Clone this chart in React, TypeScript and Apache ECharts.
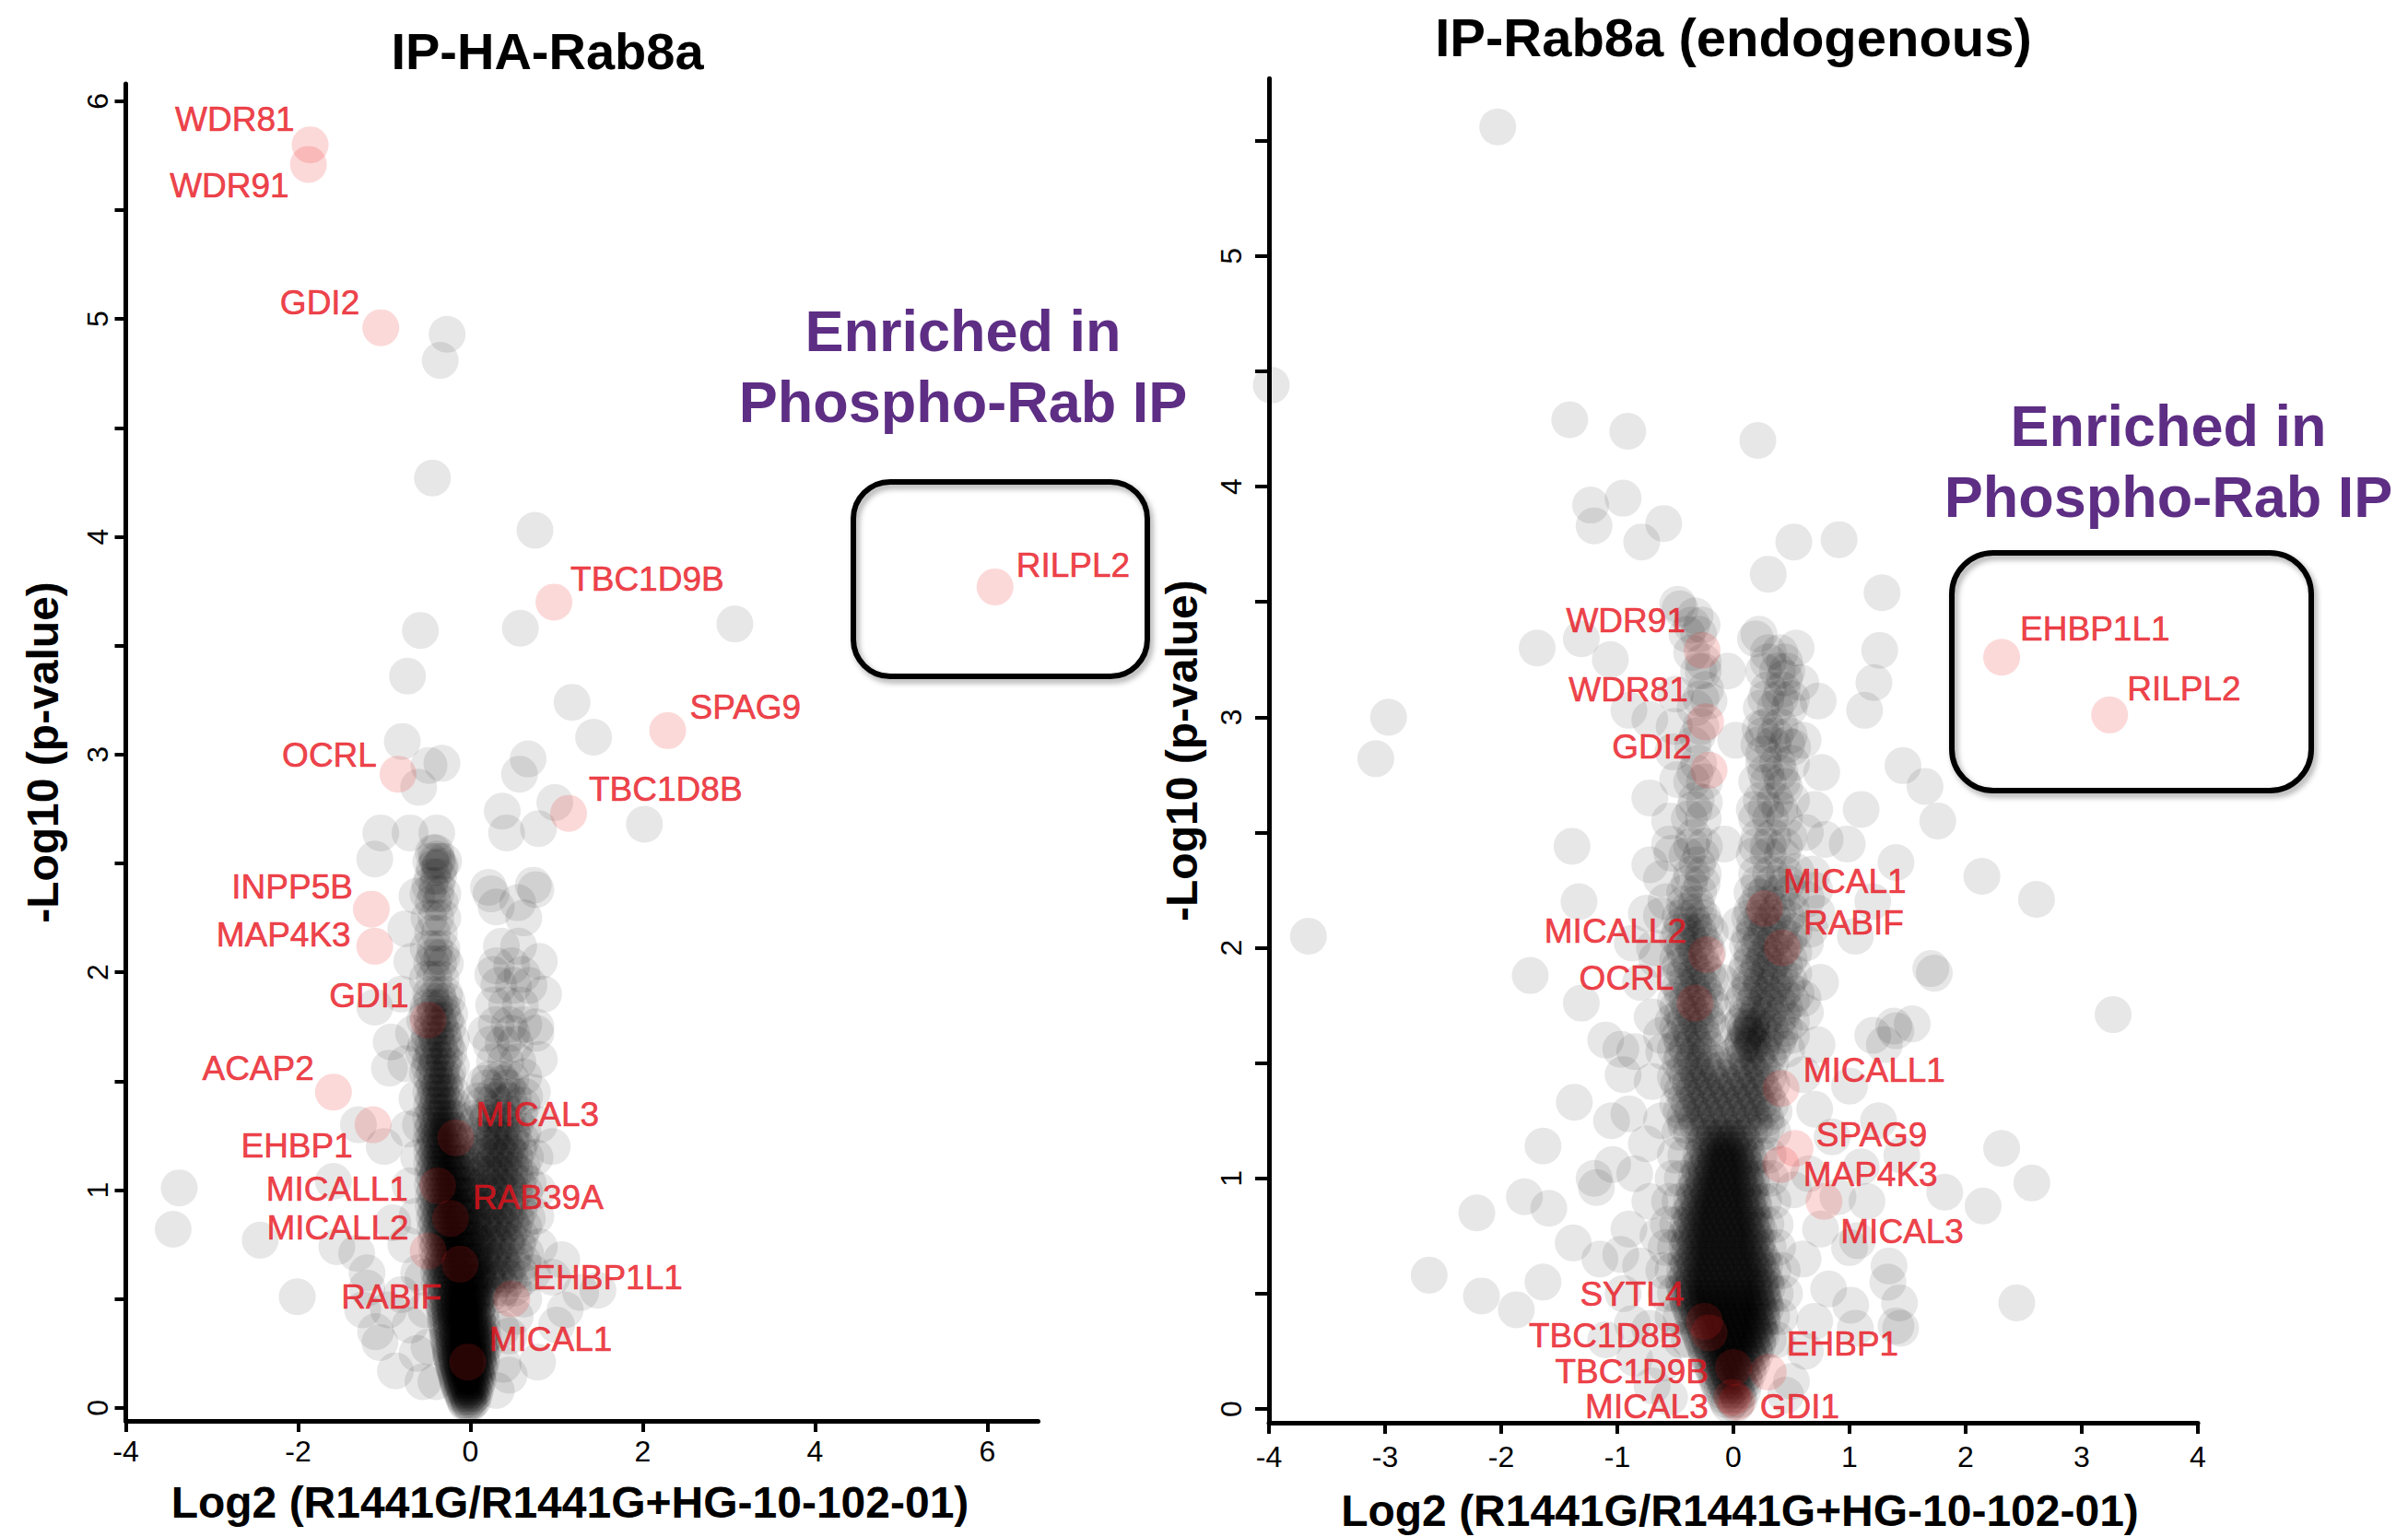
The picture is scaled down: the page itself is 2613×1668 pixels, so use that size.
import React, { useEffect, useRef } from "react";
import * as echarts from "echarts";

const FONT = '"Liberation Sans", Arial, Helvetica, sans-serif';

// ---------- texts ----------
const LEFT_TITLE = "IP-HA-Rab8a";
const RIGHT_TITLE = "IP-Rab8a (endogenous)";
const X_NAME = "Log2 (R1441G/R1441G+HG-10-102-01)";
const Y_NAME = "-Log10 (p-value)";
const ENRICHED_TEXT = "Enriched in\nPhospho-Rab IP";

// ---------- ticks ----------
const LEFT_X_LABELS = [-4, -2, 0, 2, 4, 6];
const LEFT_Y_LABELS = [0, 1, 2, 3, 4, 5, 6];
const LEFT_Y_TICKS = [0, 0.5, 1, 1.5, 2, 2.5, 3, 3.5, 4, 4.5, 5, 5.5, 6];
const RIGHT_X_LABELS = [-4, -3, -2, -1, 0, 1, 2, 3, 4];
const RIGHT_Y_LABELS = [0, 1, 2, 3, 4, 5];
const RIGHT_Y_TICKS = [0, 0.5, 1, 1.5, 2, 2.5, 3, 3.5, 4, 4.5, 5, 5.5];

// ---------- left panel: highlighted proteins ----------
const LEFT_HIT_NAMES = ["WDR81", "WDR91", "GDI2", "RILPL2", "TBC1D9B", "SPAG9", "OCRL", "TBC1D8B", "INPP5B", "MAP4K3", "GDI1", "ACAP2", "EHBP1", "MICAL3", "MICALL1", "RAB39A", "MICALL2", "RABIF", "EHBP1L1", "MICAL1"];
const LEFT_HIT_X = [-1.86, -1.88, -1.04, 6.09, 0.97, 2.29, -0.84, 1.14, -1.15, -1.11, -0.49, -1.59, -1.13, -0.17, -0.38, -0.23, -0.49, -0.12, 0.48, -0.03];
const LEFT_HIT_Y = [5.8, 5.71, 4.96, 3.77, 3.7, 3.11, 2.91, 2.73, 2.29, 2.12, 1.78, 1.45, 1.3, 1.24, 1.02, 0.87, 0.72, 0.66, 0.5, 0.21];

// ---------- left panel: all other proteins ----------
// rows: [-log10 p, log2 ratio, log2 ratio, ...]
const LEFT_CORE_ROWS = [
  [0.02, -0.05, 0.0, -0.02],
  [0.05, -0.08, -0.03, 0.02],
  [0.08, -0.11, -0.06, -0.01, 0.04],
  [0.11, -0.14, -0.09, -0.04, 0.01, 0.06],
  [0.14, -0.16, -0.11, -0.06, -0.01, 0.04, 0.08],
  [0.17, -0.18, -0.13, -0.08, -0.03, 0.02, 0.07],
  [0.2, -0.2, -0.15, -0.1, -0.05, 0.0, 0.05, 0.1],
  [0.23, -0.22, -0.16, -0.11, -0.06, -0.01, 0.04, 0.09],
  [0.26, -0.23, -0.18, -0.12, -0.07, -0.02, 0.03, 0.08, 0.12],
  [0.3, -0.25, -0.19, -0.13, -0.08, -0.03, 0.02, 0.07, 0.12],
  [0.34, -0.26, -0.2, -0.14, -0.09, -0.04, 0.01, 0.06, 0.11],
  [0.38, -0.28, -0.22, -0.16, -0.1, -0.05, 0.0, 0.05, 0.1],
  [0.42, -0.29, -0.23, -0.17, -0.11, -0.06, -0.01, 0.04, 0.09],
  [0.46, -0.3, -0.24, -0.18, -0.12, -0.07, -0.02, 0.03, 0.08],
  [0.5, -0.31, -0.25, -0.19, -0.13, -0.08, -0.03, 0.02, 0.07],
  [0.55, -0.33, -0.27, -0.21, -0.15, -0.09, -0.04, 0.01, 0.06],
  [0.6, -0.34, -0.28, -0.22, -0.16, -0.1, -0.05, 0.0],
  [0.65, -0.35, -0.29, -0.23, -0.17, -0.11, -0.06, 0.0],
  [0.7, -0.36, -0.3, -0.24, -0.18, -0.12, -0.07],
  [0.75, -0.37, -0.31, -0.25, -0.19, -0.13, -0.08],
  [0.8, -0.38, -0.32, -0.26, -0.2, -0.14, -0.09],
  [0.85, -0.39, -0.33, -0.27, -0.21, -0.15, -0.1],
  [0.9, -0.4, -0.34, -0.28, -0.22, -0.16, -0.11],
  [0.95, -0.4, -0.34, -0.28, -0.22, -0.17],
  [1.0, -0.41, -0.35, -0.29, -0.23, -0.17],
  [1.05, -0.41, -0.35, -0.29, -0.23, -0.18],
  [1.1, -0.42, -0.36, -0.3, -0.24, -0.18],
  [1.15, -0.42, -0.36, -0.3, -0.24],
  [1.2, -0.43, -0.37, -0.31, -0.25],
  [1.25, -0.42, -0.36, -0.3, -0.24],
  [1.3, -0.43, -0.37, -0.31, -0.25],
  [1.36, -0.42, -0.36, -0.3],
  [1.42, -0.43, -0.37, -0.31],
  [1.48, -0.42, -0.36, -0.3],
];
const LEFT_CORE_ROWS_B = [
  [0.035, -0.07, -0.02, 0.03],
  [0.065, -0.1, -0.05, 0.0, 0.05],
  [0.095, -0.13, -0.08, -0.03, 0.02, 0.07],
  [0.125, -0.15, -0.1, -0.05, 0.0, 0.05, 0.09],
  [0.155, -0.17, -0.12, -0.07, -0.02, 0.03, 0.08],
  [0.185, -0.19, -0.14, -0.09, -0.04, 0.01, 0.06, 0.11],
  [0.215, -0.21, -0.16, -0.11, -0.06, -0.01, 0.04, 0.09, 0.13],
  [0.245, -0.23, -0.17, -0.12, -0.07, -0.02, 0.03, 0.08, 0.13],
  [0.28, -0.24, -0.19, -0.13, -0.08, -0.03, 0.02, 0.07, 0.12, 0.16],
  [0.32, -0.26, -0.2, -0.15, -0.1, -0.05, 0.0, 0.05, 0.1, 0.15],
  [0.36, -0.27, -0.22, -0.16, -0.11, -0.06, -0.01, 0.04, 0.09, 0.14],
  [0.4, -0.29, -0.23, -0.17, -0.12, -0.07, -0.02, 0.03, 0.08, 0.13],
  [0.44, -0.3, -0.24, -0.18, -0.13, -0.08, -0.03, 0.02, 0.07, 0.12],
  [0.48, -0.32, -0.26, -0.2, -0.14, -0.09, -0.04, 0.01, 0.06, 0.11],
  [0.525, -0.34, -0.28, -0.22, -0.16, -0.1, -0.05, 0.0, 0.05, 0.1],
  [0.575, -0.36, -0.3, -0.24, -0.18, -0.12, -0.06, -0.01, 0.04, 0.09],
  [0.625, -0.37, -0.31, -0.25, -0.19, -0.13, -0.07, -0.02, 0.03, 0.08],
  [0.675, -0.38, -0.32, -0.26, -0.2, -0.14, -0.08, -0.03, 0.02, 0.07],
  [0.725, -0.39, -0.33, -0.27, -0.21, -0.15, -0.09, -0.04, 0.01, 0.06],
  [0.775, -0.4, -0.34, -0.28, -0.22, -0.16, -0.1, -0.05, 0.0, 0.05],
  [0.825, -0.41, -0.35, -0.29, -0.23, -0.17, -0.11, -0.06, -0.01, 0.04],
  [0.875, -0.42, -0.36, -0.3, -0.24, -0.18, -0.12, -0.07, -0.02, 0.03],
  [0.925, -0.43, -0.37, -0.31, -0.25, -0.19, -0.13, -0.08, -0.03, 0.02],
  [0.975, -0.43, -0.37, -0.31, -0.25, -0.19, -0.14, -0.09, -0.04, 0.01],
  [1.025, -0.44, -0.38, -0.32, -0.26, -0.2, -0.15, -0.1, -0.05, 0.0],
  [1.075, -0.44, -0.38, -0.32, -0.26, -0.21, -0.15, -0.1, -0.05],
  [1.125, -0.45, -0.39, -0.33, -0.27, -0.21, -0.16, -0.11, -0.06],
  [1.175, -0.45, -0.39, -0.33, -0.27, -0.21, -0.16, -0.11],
  [1.225, -0.46, -0.4, -0.34, -0.28, -0.22, -0.17, -0.12],
  [1.275, -0.45, -0.39, -0.33, -0.27, -0.21, -0.16],
  [1.33, -0.46, -0.4, -0.34, -0.28, -0.22, -0.17],
  [1.39, -0.45, -0.39, -0.33, -0.27, -0.21],
  [1.45, -0.46, -0.4, -0.34, -0.28, -0.22],
  [1.51, -0.45, -0.39, -0.33, -0.27],
];
const LEFT_RIGHT_LOBE_ROWS = [
  [0.55, 0.15, 0.26, 0.38, 0.5],
  [0.63, 0.2, 0.31, 0.43, 0.56],
  [0.71, 0.16, 0.27, 0.39, 0.52, 0.64],
  [0.79, 0.21, 0.33, 0.45, 0.58],
  [0.87, 0.17, 0.29, 0.41, 0.53, 0.66],
  [0.95, 0.22, 0.34, 0.46, 0.59],
  [1.03, 0.18, 0.3, 0.42, 0.55, 0.67],
  [1.11, 0.23, 0.35, 0.47, 0.6],
  [1.19, 0.19, 0.31, 0.43, 0.56],
  [1.27, 0.24, 0.36, 0.48, 0.61],
  [1.35, 0.2, 0.32, 0.44, 0.57],
  [1.43, 0.25, 0.37, 0.5, 0.63],
  [1.51, 0.22, 0.34, 0.47],
  [1.59, 0.28, 0.41, 0.55],
  [1.67, 0.24, 0.38, 0.52],
  [1.76, 0.3, 0.45, 0.62],
  [1.85, 0.27, 0.42, 0.58],
  [1.94, 0.33, 0.5, 0.68],
  [2.03, 0.3, 0.48],
  [2.12, 0.36, 0.56],
];
const LEFT_RIGHT_LOBE_ROWS_B = [
  [0.59, 0.1, 0.21, 0.33, 0.45, 0.58],
  [0.67, 0.05, 0.14, 0.25, 0.37, 0.49, 0.61],
  [0.75, 0.1, 0.2, 0.31, 0.43, 0.55],
  [0.83, 0.06, 0.15, 0.26, 0.38, 0.5, 0.62],
  [0.91, 0.11, 0.22, 0.33, 0.45, 0.57],
  [0.99, 0.06, 0.16, 0.27, 0.39, 0.51, 0.63],
  [1.07, 0.12, 0.23, 0.34, 0.46, 0.58],
  [1.15, 0.07, 0.17, 0.28, 0.4, 0.52, 0.64],
  [1.23, 0.13, 0.24, 0.35, 0.47, 0.59],
  [1.31, 0.08, 0.18, 0.29, 0.41, 0.53],
  [1.39, 0.14, 0.36, 0.6],
  [1.47, 0.2, 0.43],
  [1.72, 0.18, 0.48],
  [1.99, 0.26, 0.6],
];
const LEFT_RIGHT_LOBE_ROWS_C = [
  [0.52, 0.04, 0.12, 0.22, 0.34],
  [0.61, 0.02, 0.09, 0.18, 0.29, 0.4],
  [0.69, 0.04, 0.12, 0.23, 0.35],
  [0.77, 0.02, 0.08, 0.17, 0.28, 0.41],
  [0.85, 0.04, 0.12, 0.23, 0.35, 0.47],
  [0.93, 0.02, 0.08, 0.18, 0.29, 0.41],
  [1.01, 0.03, 0.12, 0.22, 0.34, 0.45],
  [1.09, 0.02, 0.08, 0.17, 0.29, 0.4, 0.52],
  [1.17, 0.03, 0.12, 0.23, 0.35, 0.46],
  [1.25, 0.05, 0.15, 0.27, 0.39, 0.5],
  [1.33, 0.05, 0.2, 0.35],
  [1.41, 0.1, 0.28, 0.45],
  [1.49, 0.16, 0.37],
];
const LEFT_LEFT_LOBE_ROWS = [
  [1.54, -0.5, -0.42, -0.34, -0.26],
  [1.6, -0.46, -0.38, -0.3],
  [1.66, -0.52, -0.44, -0.36, -0.28],
  [1.72, -0.48, -0.4, -0.32],
  [1.78, -0.53, -0.45, -0.37, -0.29],
  [1.84, -0.49, -0.41, -0.33],
  [1.9, -0.46, -0.38, -0.3],
  [1.97, -0.5, -0.42, -0.34],
  [2.04, -0.45, -0.37, -0.29],
  [2.11, -0.49, -0.41, -0.33],
  [2.18, -0.44, -0.36],
  [2.25, -0.48, -0.4, -0.32],
  [2.32, -0.43, -0.35],
  [2.4, -0.47, -0.39],
  [2.48, -0.42, -0.36],
  [2.55, -0.4],
];
const LEFT_LEFT_LOBE_ROWS_B = [
  [1.57, -0.48, -0.4, -0.32, -0.22],
  [1.63, -0.54, -0.43, -0.34, -0.25],
  [1.69, -0.48, -0.39, -0.3, -0.22],
  [1.75, -0.44, -0.35, -0.26],
  [1.81, -0.5, -0.41, -0.32, -0.24],
  [1.87, -0.45, -0.36, -0.27],
  [2.07, -0.42, -0.33],
  [2.36, -0.49, -0.4, -0.32],
  [2.44, -0.44, -0.37],
  [2.51, -0.46, -0.38, -0.31],
];
const LEFT_HALO: number[][] = [
  [-0.55, 0.12], [0.3, 0.08], [-0.62, 0.25], [0.38, 0.2], [-0.7, 0.38], [0.45, 0.33], [-0.52, 0.45], [0.52, 0.42],
  [-0.8, 0.52], [0.62, 0.5], [-0.6, 0.62], [0.72, 0.62], [-0.75, 0.75], [0.8, 0.74], [-0.62, 0.88], [0.76, 0.88],
  [-0.7, 1.02], [0.78, 1.0], [-0.6, 1.15], [0.75, 1.15], [-0.72, 1.28], [0.8, 1.3], [-0.62, 1.42], [0.72, 1.45],
  [-0.75, 1.58], [0.8, 1.6], [-0.66, 1.72], [0.76, 1.75], [-0.8, 1.9], [0.85, 1.9], [-0.68, 2.05], [0.8, 2.05],
  [-0.75, 2.2], [0.62, 2.25], [-0.62, 2.35], [0.3, 2.3], [-1.05, 0.3], [-0.95, 0.45], [1.0, 0.38], [-0.9, 0.85],
  [-1.0, 1.2], [0.95, 1.2], [-0.92, 1.68], [-1.2, 0.55], [0.95, 0.6], [-0.48, 0.28], [0.36, 0.36], [-0.55, 0.6],
  [0.62, 1.52], [-0.58, 1.3], [0.45, 0.15], [-0.4, 0.12],
];
const LEFT_OUTLIERS: number[][] = [
  [-0.27, 4.93], [-0.35, 4.81], [-0.44, 4.27], [0.75, 4.03], [-0.58, 3.57], [0.58, 3.58], [3.07, 3.6],
  [-0.73, 3.36], [1.18, 3.24], [1.43, 3.08], [-0.79, 3.06], [-0.33, 2.96], [-0.48, 2.95], [-0.6, 2.85],
  [0.67, 2.98], [0.57, 2.91], [0.98, 2.78], [0.37, 2.74], [0.42, 2.64], [0.79, 2.66], [2.02, 2.68],
  [-1.04, 2.64], [-0.7, 2.64], [-0.39, 2.64], [-1.11, 2.52], [-0.39, 2.52], [-0.43, 2.55], [-0.35, 2.49],
  [0.21, 2.39], [0.24, 2.36], [0.76, 2.38], [0.73, 2.4], [0.55, 2.32], [-1.11, 1.84], [-0.94, 1.56],
  [0.76, 1.72], [-1.3, 1.3], [-3.38, 1.01], [-3.45, 0.82], [-2.44, 0.77], [-2.01, 0.51], [-1.59, 1.04],
  [-1.32, 0.71], [-1.55, 0.74], [-1.2, 0.62], [-1.25, 0.45], [-1.1, 0.35], [-0.87, 0.17], [0.78, 0.21],
  [1.06, 0.68], [1.28, 0.53], [1.48, 0.54], [1.1, 0.45],
];

// ---------- right panel: highlighted proteins ----------
const RIGHT_HIT_NAMES = ["EHBP1L1", "RILPL2", "WDR91", "WDR81", "GDI2", "MICAL1", "RABIF", "MICALL2", "OCRL", "MICALL1", "SPAG9", "MAP4K3", "MICAL3", "SYTL4", "TBC1D8B", "TBC1D9B", "EHBP1", "MICAL3", "GDI1"];
const RIGHT_HIT_X = [2.31, 3.24, -0.27, -0.24, -0.21, 0.27, 0.42, -0.23, -0.33, 0.41, 0.53, 0.41, 0.78, -0.25, -0.21, 0.0, 0.3, -0.01, 0.03];
const RIGHT_HIT_Y = [3.26, 3.01, 3.29, 2.98, 2.77, 2.17, 2.0, 1.97, 1.76, 1.39, 1.13, 1.06, 0.9, 0.38, 0.33, 0.18, 0.16, 0.05, 0.03];

// ---------- right panel: all other proteins ----------
const RIGHT_CORE_ROWS = [
  [0.02, -0.04, 0.02],
  [0.06, -0.08, -0.02, 0.04],
  [0.1, -0.12, -0.06, 0.0, 0.06],
  [0.14, -0.15, -0.09, -0.03, 0.03, 0.09],
  [0.18, -0.18, -0.12, -0.06, 0.0, 0.06, 0.12],
  [0.22, -0.21, -0.15, -0.09, -0.03, 0.03, 0.09, 0.15],
  [0.26, -0.24, -0.18, -0.12, -0.06, 0.0, 0.06, 0.12, 0.18],
  [0.3, -0.27, -0.21, -0.15, -0.09, -0.03, 0.03, 0.09, 0.15, 0.21],
  [0.34, -0.3, -0.24, -0.18, -0.12, -0.06, 0.0, 0.06, 0.12, 0.18, 0.23],
  [0.38, -0.33, -0.27, -0.21, -0.15, -0.09, -0.03, 0.03, 0.09, 0.15, 0.21, 0.25],
  [0.42, -0.36, -0.3, -0.24, -0.18, -0.12, -0.06, 0.0, 0.06, 0.12, 0.18, 0.24],
  [0.46, -0.39, -0.33, -0.27, -0.21, -0.15, -0.09, -0.03, 0.03, 0.09, 0.15, 0.21, 0.27],
  [0.5, -0.41, -0.35, -0.29, -0.23, -0.17, -0.11, -0.05, 0.01, 0.07, 0.13, 0.19, 0.25],
  [0.55, -0.43, -0.37, -0.31, -0.25, -0.19, -0.13, -0.07, -0.01, 0.05, 0.11, 0.17, 0.23, 0.28],
  [0.6, -0.42, -0.36, -0.3, -0.24, -0.18, -0.12, -0.06, 0.0, 0.06, 0.12, 0.18, 0.24],
  [0.65, -0.41, -0.35, -0.29, -0.23, -0.17, -0.11, -0.05, 0.01, 0.07, 0.13, 0.19, 0.25],
  [0.7, -0.4, -0.34, -0.28, -0.22, -0.16, -0.1, -0.04, 0.02, 0.08, 0.14, 0.2],
  [0.75, -0.41, -0.35, -0.29, -0.23, -0.17, -0.11, -0.05, 0.01, 0.07, 0.13, 0.19],
  [0.8, -0.39, -0.33, -0.27, -0.21, -0.15, -0.09, -0.03, 0.03, 0.09, 0.15, 0.2],
  [0.85, -0.38, -0.32, -0.26, -0.2, -0.14, -0.08, -0.02, 0.04, 0.1, 0.16],
  [0.9, -0.36, -0.3, -0.24, -0.18, -0.12, -0.06, 0.0, 0.06, 0.12, 0.17],
  [0.95, -0.34, -0.28, -0.22, -0.16, -0.1, -0.04, 0.02, 0.08, 0.14],
  [1.0, -0.32, -0.26, -0.2, -0.14, -0.08, -0.02, 0.04, 0.1, 0.15],
  [1.05, -0.3, -0.24, -0.18, -0.12, -0.06, 0.0, 0.06, 0.12],
  [1.1, -0.28, -0.22, -0.16, -0.1, -0.04, 0.02, 0.08, 0.13],
  [1.15, -0.26, -0.2, -0.14, -0.08, -0.02, 0.04, 0.1],
];
const RIGHT_CORE_ROWS_B = [
  [0.04, -0.06, 0.0, 0.05],
  [0.08, -0.1, -0.04, 0.02, 0.08],
  [0.12, -0.14, -0.08, -0.02, 0.04, 0.1],
  [0.16, -0.17, -0.11, -0.05, 0.01, 0.07, 0.13],
  [0.2, -0.2, -0.14, -0.08, -0.02, 0.04, 0.1, 0.16],
  [0.24, -0.23, -0.17, -0.11, -0.05, 0.01, 0.07, 0.13, 0.19],
  [0.28, -0.26, -0.2, -0.14, -0.08, -0.02, 0.04, 0.1, 0.16, 0.21],
  [0.32, -0.29, -0.23, -0.17, -0.11, -0.05, 0.01, 0.07, 0.13, 0.19, 0.24],
  [0.36, -0.32, -0.26, -0.2, -0.14, -0.08, -0.02, 0.04, 0.1, 0.16, 0.22],
  [0.4, -0.35, -0.29, -0.23, -0.17, -0.11, -0.05, 0.01, 0.07, 0.13, 0.19, 0.25],
  [0.44, -0.38, -0.32, -0.26, -0.2, -0.14, -0.08, -0.02, 0.04, 0.1, 0.16, 0.22, 0.28],
  [0.48, -0.4, -0.34, -0.28, -0.22, -0.16, -0.1, -0.04, 0.02, 0.08, 0.14, 0.2, 0.26],
  [0.525, -0.42, -0.36, -0.3, -0.24, -0.18, -0.12, -0.06, 0.0, 0.06, 0.12, 0.18, 0.24, 0.29],
  [0.575, -0.4, -0.34, -0.28, -0.22, -0.16, -0.1, -0.04, 0.02, 0.08, 0.14, 0.2, 0.26],
  [0.625, -0.39, -0.33, -0.27, -0.21, -0.15, -0.09, -0.03, 0.03, 0.09, 0.15, 0.21, 0.27],
  [0.675, -0.38, -0.32, -0.26, -0.2, -0.14, -0.08, -0.02, 0.04, 0.1, 0.16, 0.22],
  [0.725, -0.38, -0.32, -0.26, -0.2, -0.14, -0.08, -0.02, 0.04, 0.1, 0.16, 0.21],
  [0.775, -0.37, -0.31, -0.25, -0.19, -0.13, -0.07, -0.01, 0.05, 0.11, 0.17, 0.22],
  [0.825, -0.36, -0.3, -0.24, -0.18, -0.12, -0.06, 0.0, 0.06, 0.12, 0.18],
  [0.875, -0.35, -0.29, -0.23, -0.17, -0.11, -0.05, 0.01, 0.07, 0.13, 0.18],
  [0.925, -0.33, -0.27, -0.21, -0.15, -0.09, -0.03, 0.03, 0.09, 0.15],
  [0.975, -0.31, -0.25, -0.19, -0.13, -0.07, -0.01, 0.05, 0.11, 0.16],
  [1.025, -0.29, -0.23, -0.17, -0.11, -0.05, 0.01, 0.07, 0.13],
  [1.075, -0.27, -0.21, -0.15, -0.09, -0.03, 0.03, 0.09, 0.14],
  [1.125, -0.25, -0.19, -0.13, -0.07, -0.01, 0.05, 0.11],
  [1.175, -0.23, -0.17, -0.11, -0.05, 0.01, 0.07],
];
const RIGHT_FLANK_ROWS = [
  [0.3, -0.45, -0.38, 0.3, 0.37],
  [0.4, -0.52, -0.45, 0.33, 0.4],
  [0.5, -0.58, -0.5, 0.36, 0.44],
  [0.6, -0.6, -0.52, 0.34, 0.42],
  [0.7, -0.58, -0.5, 0.3, 0.38],
  [0.8, -0.56, -0.48, 0.28, 0.36],
  [0.9, -0.55, -0.46, 0.26, 0.34],
  [1.0, -0.52, -0.44, 0.24, 0.32],
  [1.1, -0.5, -0.41, 0.22, 0.3],
];
const RIGHT_MID_ROWS = [
  [1.2, -0.46, -0.36, -0.26, -0.16, -0.06, 0.04, 0.14, 0.24, 0.34],
  [1.26, -0.42, -0.32, -0.22, -0.12, -0.02, 0.08, 0.18, 0.28],
  [1.32, -0.48, -0.38, -0.28, -0.18, -0.08, 0.02, 0.12, 0.22, 0.32],
  [1.38, -0.44, -0.34, -0.24, -0.14, -0.04, 0.06, 0.16, 0.26],
  [1.44, -0.5, -0.4, -0.3, -0.2, -0.1, 0.0, 0.1, 0.2, 0.3],
  [1.5, -0.46, -0.36, -0.26, -0.16, 0.02, 0.12, 0.22, 0.32],
  [1.23, -0.41, -0.31, -0.21, -0.11, -0.01, 0.09, 0.19, 0.29],
  [1.29, -0.45, -0.35, -0.25, -0.15, -0.05, 0.05, 0.15, 0.25, 0.35],
  [1.35, -0.41, -0.31, -0.21, -0.11, -0.01, 0.09, 0.19, 0.29],
  [1.41, -0.47, -0.37, -0.27, -0.17, -0.07, 0.03, 0.13, 0.23, 0.33],
  [1.47, -0.42, -0.32, -0.22, -0.12, 0.05, 0.15, 0.25],
  [1.53, -0.44, -0.34, -0.24, 0.0, 0.1, 0.2, 0.3],
  [1.58, 0.08, 0.17],
  [1.63, 0.12],
  [1.66, 0.05, 0.16],
];
const RIGHT_LOBE_LOW_ROWS = [
  [1.56, -0.5, -0.4, -0.3, -0.2, 0.06, 0.14, 0.24, 0.34, 0.46],
  [1.62, -0.46, -0.36, -0.26, 0.1, 0.13, 0.17, 0.28, 0.4],
  [1.68, -0.52, -0.42, -0.32, -0.22, 0.08, 0.16, 0.26, 0.38, 0.5],
  [1.74, -0.48, -0.38, -0.28, -0.18, 0.12, 0.22, 0.32, 0.44],
  [1.8, -0.44, -0.34, -0.24, 0.1, 0.2, 0.3, 0.42, 0.54],
  [1.86, -0.5, -0.4, -0.3, -0.2, 0.14, 0.24, 0.36, 0.48],
  [1.92, -0.46, -0.36, -0.26, 0.12, 0.22, 0.32, 0.44],
  [1.98, -0.42, -0.32, -0.22, 0.16, 0.28, 0.4, 0.52],
  [2.04, -0.48, -0.38, -0.28, 0.14, 0.24, 0.36, 0.48],
  [2.1, -0.44, -0.34, -0.24, 0.18, 0.3, 0.42],
  [2.16, -0.4, -0.3, 0.16, 0.26, 0.38, 0.5],
  [1.59, -0.44, -0.34, -0.24, 0.08, 0.16, 0.26, 0.38],
  [1.65, -0.48, -0.38, -0.28, -0.18, 0.1, 0.15, 0.22, 0.32, 0.44],
  [1.71, -0.44, -0.34, -0.24, 0.12, 0.2, 0.3, 0.42],
  [1.77, -0.5, -0.4, -0.3, -0.2, 0.08, 0.18, 0.28, 0.38, 0.5],
  [1.83, -0.46, -0.36, -0.26, 0.14, 0.24, 0.34, 0.46],
  [1.89, -0.42, -0.32, -0.22, 0.1, 0.2, 0.3, 0.4, 0.52],
  [1.95, -0.48, -0.38, -0.28, 0.16, 0.26, 0.36, 0.48],
  [2.01, -0.44, -0.34, -0.24, 0.12, 0.22, 0.32, 0.44],
  [2.07, -0.4, -0.3, -0.2, 0.18, 0.28, 0.4, 0.52],
  [2.13, -0.46, -0.36, -0.26, 0.14, 0.24, 0.34, 0.46],
  [2.19, -0.42, -0.32, 0.2, 0.3, 0.42],
];
const RIGHT_LOBE_HIGH_ROWS = [
  [2.24, -0.42, -0.3, 0.16, 0.28, 0.4, 0.5],
  [2.32, -0.36, -0.26, 0.2, 0.32, 0.44],
  [2.4, -0.4, -0.28, 0.18, 0.3, 0.42],
  [2.48, -0.34, 0.22, 0.34, 0.48],
  [2.56, -0.38, -0.26, 0.2, 0.32, 0.44],
  [2.64, -0.32, 0.24, 0.36, 0.5],
  [2.72, -0.36, -0.25, 0.2, 0.3, 0.42],
  [2.8, -0.3, 0.26, 0.38, 0.5],
  [2.88, -0.35, 0.22, 0.34, 0.46],
  [2.96, -0.28, 0.28, 0.4],
  [3.04, -0.33, 0.24, 0.36, 0.48],
  [3.12, -0.24, 0.3, 0.42],
  [3.2, -0.3, 0.26, 0.38, 0.46],
  [3.28, -0.36, 0.3, 0.4],
  [3.36, -0.3, 0.22],
  [3.44, -0.33],
  [2.28, -0.38, -0.27, 0.22, 0.34, 0.46],
  [2.44, -0.36, -0.25, 0.2, 0.3, 0.44],
  [2.6, -0.34, 0.18, 0.28, 0.4],
  [2.76, -0.33, 0.28, 0.4],
  [2.92, -0.31, 0.26, 0.36, 0.48],
  [3.08, -0.28, 0.28, 0.4, 0.5],
  [3.24, -0.26, 0.3, 0.44],
  [3.4, -0.36, -0.27],
];
const RIGHT_HALO: number[][] = [
  [-0.7, 0.1], [0.5, 0.12], [-0.85, 0.22], [0.62, 0.25], [-0.72, 0.35], [0.7, 0.38], [-0.95, 0.5], [0.82, 0.52],
  [-0.8, 0.62], [0.6, 0.65], [-0.9, 0.78], [0.75, 0.78], [-0.72, 0.9], [0.9, 0.92], [-0.85, 1.02], [0.65, 1.02],
  [-0.75, 1.15], [0.85, 1.18], [-0.9, 1.28], [0.7, 1.3], [-0.7, 1.42], [0.6, 1.45], [-0.85, 1.55], [0.72, 1.58],
  [-0.7, 1.7], [0.62, 1.72], [-0.8, 1.85], [0.75, 1.85], [-0.68, 2.0], [0.62, 2.02], [-0.75, 2.15], [0.72, 2.15],
  [-0.62, 2.3], [0.68, 2.32], [-0.55, 2.45], [0.7, 2.6], [-1.1, 0.3], [1.05, 0.35], [-1.15, 0.65], [1.0, 0.7],
  [-1.2, 1.0], [1.1, 1.05], [-1.05, 1.25], [1.0, 1.4], [-1.1, 1.6], [-0.6, 0.2], [0.45, 0.06], [-0.55, 0.05],
  [1.2, 1.62], [1.4, 1.64], [1.3, 1.58], [1.07, 0.73], [1.34, 0.62], [1.01, 0.45], [1.4, 0.36], [1.33, 0.55],
  [1.15, 0.9], [1.25, 1.25], [1.45, 1.1], [1.05, 2.05], [1.2, 2.2], [0.98, 2.45], [1.1, 2.6],
  [-0.65, 0.75], [0.52, 0.95], [-0.62, 1.25], [0.5, 1.62], [-0.6, 1.55],
  [-0.62, 1.62], [0.6, 1.78], [-0.66, 1.95], [0.66, 2.08], [-0.58, 2.2], [0.7, 2.25], [-0.55, 2.55],
  [0.62, 2.5], [-0.52, 2.85], [0.6, 2.9], [-0.5, 3.1], [0.58, 3.15], [-0.08, 2.45], [0.02, 2.9],
  [-0.05, 3.2], [0.05, 2.1], [-0.1, 1.85],
];
const RIGHT_OUTLIERS: number[][] = [
  [-2.03, 5.56], [-3.98, 4.44], [-1.41, 4.29], [-0.91, 4.24], [0.21, 4.2], [-1.23, 3.92], [-0.95, 3.95],
  [-1.2, 3.83], [-0.6, 3.84], [-0.79, 3.76], [0.52, 3.76], [0.91, 3.77], [0.3, 3.62], [-0.48, 3.49],
  [1.28, 3.54], [-1.69, 3.3], [-1.31, 3.34], [-1.06, 3.25], [-0.9, 3.03], [-0.72, 2.99], [-0.51, 2.96],
  [-0.46, 3.47], [-0.4, 3.36], [-0.21, 3.07], [-0.26, 3.2], [-0.72, 2.65], [-0.48, 2.73], [-0.25, 2.63],
  [-1.39, 2.44], [-0.72, 2.36], [-0.53, 2.41], [-0.31, 2.36], [-1.33, 2.2], [-1.75, 1.88], [-1.31, 1.76],
  [-0.97, 1.56], [-1.37, 1.33], [-0.87, 2.02], [-0.62, 2.14], [-0.46, 2.07], [0.19, 3.34], [0.54, 3.3],
  [0.44, 3.17], [0.73, 3.07], [1.26, 3.29], [1.21, 3.15], [1.13, 3.03], [0.23, 2.95], [0.51, 2.87],
  [0.76, 2.76], [0.44, 2.7], [0.26, 2.84], [1.46, 2.79], [1.65, 2.7], [1.76, 2.55], [2.14, 2.31],
  [2.61, 2.21], [0.79, 2.47], [0.54, 2.33], [0.63, 2.21], [0.23, 2.22], [1.7, 1.91], [1.73, 1.89],
  [1.54, 1.67], [1.38, 1.66], [3.27, 1.71], [-2.97, 3.0], [-3.08, 2.82], [-3.66, 2.05], [-1.64, 1.14],
  [-1.8, 0.92], [-1.59, 0.87], [-1.38, 0.72], [-2.21, 0.85], [-2.62, 0.58], [-2.17, 0.49], [-1.87, 0.43],
  [-1.64, 0.55], [-1.04, 1.06], [-1.18, 0.96], [-0.97, 0.67], [-0.87, 0.37], [-0.95, 1.45], [2.31, 1.13],
  [2.57, 0.98], [2.15, 0.88], [1.82, 0.94], [2.44, 0.46], [1.43, 0.46], [1.4, 2.37], [1.44, 0.35],
];

// ---------- label layout (pixel offsets from the point) ----------
const LEFT_LABEL_ALIGN = ["right", "right", "right", "left", "left", "left", "right", "left", "right", "right", "right", "right", "right", "left", "right", "left", "right", "right", "left", "left"];
const LEFT_LABEL_DX = [-17, -21, -23, 23, 18, 24, -23, 22, -20, -26, -21, -21, -22, 22, -32, 24, -21, -20, 23, 23];
const LEFT_LABEL_DY = [-28, 23, -27, -23, -25, -25, -21, -26, -24, -12, -27, -26, 23, -25, 4, -23, -25, 36, -23, -25];
const RIGHT_LABEL_ALIGN = ["left", "left", "right", "right", "right", "left", "left", "right", "right", "left", "left", "left", "left", "right", "right", "right", "left", "right", "left"];
const RIGHT_LABEL_DX = [20, 19, -18, -19, -19, 20, 23, -22, -23, 24, 23, 24, 18, -22, -29, -27, 20, -26, 25];
const RIGHT_LABEL_DY = [-31, -28, -32, -35, -25, -30, -27, -26, -27, -20, -15, 11, 33, -29, 3, 5, -30, 10, 5];

const GREY = "rgba(0,0,0,0.12)";
const PINK = "rgba(235,30,30,0.21)";
const RED_TEXT = "#e8111b";
const PURPLE = "#5d2e84";

function rowsToPoints(rows: number[][]): number[][] {
  const out: number[][] = [];
  for (const r of rows) {
    for (let i = 1; i < r.length; i++) out.push([r[i], r[0]]);
  }
  return out;
}

function xAxisOf(grid: number, min: number, max: number, labels: number[], margin: number, nameGap: number, namePad: number[]) {
  return {
    type: "value",
    gridIndex: grid,
    min,
    max,
    name: X_NAME,
    nameLocation: "middle",
    nameGap,
    nameTextStyle: { fontSize: 48, fontWeight: "bold", color: "#000", fontFamily: FONT, padding: namePad },
    axisLine: { show: true, onZero: false, lineStyle: { color: "#000", width: 5 } },
    axisTick: { show: true, length: 12, customValues: labels, lineStyle: { color: "#000", width: 4 } },
    axisLabel: { customValues: labels, fontSize: 32, color: "#000", fontFamily: FONT, margin },
    splitLine: { show: false },
  };
}

function yAxisOf(grid: number, min: number, max: number, labels: number[], ticks: number[], margin: number, tickLen: number, nameGap: number) {
  return {
    type: "value",
    gridIndex: grid,
    min,
    max,
    name: Y_NAME,
    nameLocation: "middle",
    nameGap,
    nameTextStyle: { fontSize: 48, fontWeight: "bold", color: "#000", fontFamily: FONT },
    axisLine: { show: true, onZero: false, lineStyle: { color: "#000", width: 5 } },
    axisTick: { show: true, length: tickLen, customValues: ticks, lineStyle: { color: "#000", width: 4 } },
    axisLabel: { customValues: labels, rotate: 90, fontSize: 32, color: "#000", fontFamily: FONT, margin },
    splitLine: { show: false },
  };
}

function greySeries(idx: number, data: number[][]) {
  return {
    type: "scatter",
    xAxisIndex: idx,
    yAxisIndex: idx,
    data,
    symbol: "circle",
    symbolSize: 40,
    itemStyle: { color: GREY, borderWidth: 0 },
    silent: true,
    emphasis: { disabled: true },
    progressive: 0,
    large: false,
    z: 2,
  };
}

function hitSeries(idx: number, names: string[], xs: number[], ys: number[], align: string[], dx: number[], dy: number[]) {
  return {
    type: "scatter",
    xAxisIndex: idx,
    yAxisIndex: idx,
    symbol: "circle",
    symbolSize: 40,
    itemStyle: { color: PINK, borderWidth: 0 },
    silent: true,
    emphasis: { disabled: true },
    z: 3,
    label: {
      show: true,
      position: "inside",
      formatter: "{b}",
      color: RED_TEXT,
      fontSize: 37,
      fontFamily: FONT,
      verticalAlign: "middle",
      lineHeight: 32,
      textBorderWidth: 0.6,
      textBorderColor: RED_TEXT,
    },
    data: names.map((name, i) => ({
      name,
      value: [xs[i], ys[i]],
      label: { align: align[i], offset: [dx[i], dy[i]] },
    })),
  };
}

function textEl(text: string, x: number, y: number, size: number, color: string, lineHeight?: number) {
  return {
    type: "text",
    x,
    y,
    z: 10,
    style: {
      text,
      fill: color,
      fontSize: size,
      fontWeight: "bold",
      fontFamily: FONT,
      lineHeight: lineHeight || size,
      align: "center",
      verticalAlign: "middle",
      textAlign: "center",
      textVerticalAlign: "middle",
    },
  };
}

function boxEl(x: number, y: number, w: number, h: number, r: number) {
  return {
    type: "rect",
    z: 9,
    shape: { x, y, width: w, height: h, r },
    style: {
      fill: "none",
      stroke: "#000",
      lineWidth: 6,
      shadowBlur: 6,
      shadowColor: "rgba(0,0,0,0.35)",
      shadowOffsetX: 3,
      shadowOffsetY: 4,
    },
  };
}

export default function App() {
  const ref = useRef<HTMLDivElement>(null);

  useEffect(() => {
    if (!ref.current) return;
    const chart = echarts.init(ref.current, undefined, { renderer: "svg" });

    const leftGrey = [
      ...LEFT_OUTLIERS,
      ...LEFT_HALO,
      ...rowsToPoints(LEFT_LEFT_LOBE_ROWS),
      ...rowsToPoints(LEFT_LEFT_LOBE_ROWS_B),
      ...rowsToPoints(LEFT_RIGHT_LOBE_ROWS),
      ...rowsToPoints(LEFT_RIGHT_LOBE_ROWS_B),
      ...rowsToPoints(LEFT_RIGHT_LOBE_ROWS_C),
      ...rowsToPoints(LEFT_CORE_ROWS),
      ...rowsToPoints(LEFT_CORE_ROWS_B),
    ];
    const rightGrey = [
      ...RIGHT_OUTLIERS,
      ...RIGHT_HALO,
      ...rowsToPoints(RIGHT_LOBE_HIGH_ROWS),
      ...rowsToPoints(RIGHT_LOBE_LOW_ROWS),
      ...rowsToPoints(RIGHT_MID_ROWS),
      ...rowsToPoints(RIGHT_FLANK_ROWS),
      ...rowsToPoints(RIGHT_CORE_ROWS),
      ...rowsToPoints(RIGHT_CORE_ROWS_B),
    ];

    const option = {
      animation: false,
      backgroundColor: "#ffffff",
      grid: [
        { left: 136.5, top: 91, width: 990, height: 1451, containLabel: false },
        { left: 1377, top: 85.2, width: 1008, height: 1463.3, containLabel: false },
      ],
      xAxis: [
        xAxisOf(0, -4, 6.59, LEFT_X_LABELS, 17, 64, [0, 26, 0, 0]),
        xAxisOf(1, -4, 4, RIGHT_X_LABELS, 21, 71, [0, 0, 0, 14]),
      ],
      yAxis: [
        yAxisOf(0, -0.06, 6.08, LEFT_Y_LABELS, LEFT_Y_TICKS, 15, 12, 66),
        yAxisOf(1, -0.06, 5.77, RIGHT_Y_LABELS, RIGHT_Y_TICKS, 25, 15, 71),
      ],
      series: [
        greySeries(0, leftGrey),
        hitSeries(0, LEFT_HIT_NAMES, LEFT_HIT_X, LEFT_HIT_Y, LEFT_LABEL_ALIGN, LEFT_LABEL_DX, LEFT_LABEL_DY),
        greySeries(1, rightGrey),
        hitSeries(1, RIGHT_HIT_NAMES, RIGHT_HIT_X, RIGHT_HIT_Y, RIGHT_LABEL_ALIGN, RIGHT_LABEL_DX, RIGHT_LABEL_DY),
      ],
      graphic: [
        textEl(LEFT_TITLE, 594, 55, 56, "#000"),
        textEl(RIGHT_TITLE, 1881, 40, 58, "#000"),
        textEl(ENRICHED_TEXT, 1045, 397, 63, PURPLE, 77),
        textEl(ENRICHED_TEXT, 2353, 500, 63, PURPLE, 77),
        boxEl(926, 523, 319, 211, 40),
        boxEl(2118, 600, 390, 258, 45),
      ],
    };

    chart.setOption(option as any);
    return () => {
      chart.dispose();
    };
  }, []);

  return (
    <div
      ref={ref}
      style={{ position: "fixed", left: 0, top: 0, width: 2613, height: 1668, background: "#ffffff" }}
    />
  );
}
